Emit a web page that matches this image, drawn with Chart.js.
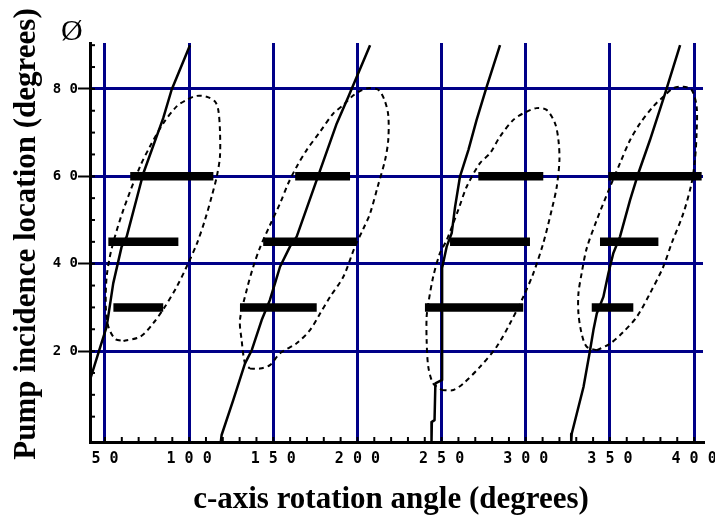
<!DOCTYPE html>
<html>
<head>
<meta charset="utf-8">
<script src="https://cdn.jsdelivr.net/npm/chart.js@4/dist/chart.umd.min.js"></script>
<style>
  html,body{margin:0;padding:0;background:#fff;}
  #wrap{width:715px;height:522px;position:relative;}
</style>
</head>
<body>
<div id="wrap"><canvas id="c" width="715" height="522"></canvas></div>
<script>
// ---------- data ----------
const xTicks = [50, 100, 150, 200, 250, 300, 350, 400];
const yTicks = [20, 40, 60, 80];
const xTitle = "c-axis rotation angle (degrees)";
const yTitle = "Pump incidence location (degrees)";
const cornerLabel = "\u00D8";

// thick horizontal bars (level, start, end)
const barLevel = [60, 45, 30, 60, 45, 30, 60, 45, 30, 60, 45, 30];
const barStart = [65, 52, 55, 163, 144, 130.2, 271.8, 255, 240.1, 349.1, 344.1, 339.2];
const barEnd   = [114.4, 93.6, 84.6, 195.6, 199.6, 175.8, 310.4, 302.5, 298.5, 404.5, 378.8, 363.9];

// solid steep curves
const lineAX = [100.5, 89.6, 84.6, 72.8, 62.9, 59.9, 54.9, 51, 46, 41.1, 37];
const lineAY = [90, 79.8, 73.3, 60.7, 46.2, 43.9, 35.5, 25.6, 19.5, 13.4, 7];
const lineBX = [207.5, 199.6, 194.6, 187.7, 177.5, 163.9, 159.9, 154, 151, 148, 143.1, 137.2, 133.2, 126.2, 119.3, 118.8];
const lineBY = [90, 82.8, 78.2, 72.1, 61, 46.2, 43.9, 39.3, 35.5, 31.7, 27.1, 20.2, 17.2, 8.8, 0.8, -0.8];
const lineCX = [284.7, 276.8, 270.8, 265.9, 260.9, 258, 256, 253, 250.3, 250.3, 246.3, 245.8, 244.2, 244];
const lineCY = [90, 80.5, 72.9, 66, 59.9, 53, 47, 43.9, 39, 13.4, 12.6, 4.2, 3.8, -0.8];
const lineDX = [391.7, 382.8, 373.8, 366.9, 362, 356, 352, 349.1, 346.1, 342.2, 340.2, 338.2, 334.3, 327.3, 327];
const lineDY = [90, 79, 68.3, 60.7, 54.6, 46.2, 42.4, 37.8, 32.4, 28.6, 24.8, 20.2, 11.8, 1.1, -0.8];

// dashed closed loops
const loop1X = [61, 71, 78.7, 85.7, 92.6, 98.5, 104.5, 109.4, 113.4, 116.4, 118.3, 118.3, 117.3, 115.4, 110.4, 104.5, 98.5, 92.6, 84.6, 76.7, 70.8, 60.9, 54, 51, 50.5, 52, 56, 61];
const loop1Y = [22.3, 23.3, 26.4, 30.2, 34.7, 39.3, 44.5, 50, 55.4, 59.9, 64.5, 70.6, 75.2, 77.1, 78.2, 78.4, 77.5, 76, 72.1, 66.8, 62.2, 52.3, 43.5, 37, 30, 25.6, 22.8, 22.3];
const loop2X = [136.1, 142.1, 148, 154, 163.9, 171.8, 177.8, 183.7, 191.6, 198.5, 203.5, 207.5, 212, 216.4, 218.3, 218.3, 216, 212.4, 207, 202, 196.6, 191.6, 185.7, 177.8, 169.8, 163.9, 158.9, 154, 148, 142.1, 138.1, 134.2, 130.2, 131.2, 133.2, 136.1];
const loop2Y = [16, 16, 16.8, 19.5, 21.8, 24.8, 28.6, 32.4, 37, 43.9, 48, 51.5, 57.6, 63.7, 68.3, 74, 77.5, 79.8, 80.2, 79.6, 78.2, 76.3, 74.4, 70.2, 66, 62.2, 58.4, 53.8, 48.8, 43.7, 39.3, 34, 27.1, 22.5, 17.2, 16];
const loop3X = [250, 257, 262.9, 272.8, 282.7, 290.6, 298.5, 304.5, 310.4, 315.4, 318.4, 320, 319.4, 317.4, 312.4, 306.4, 298.5, 292.6, 284.7, 278.8, 272.8, 264.9, 259.9, 253, 249, 245, 242.1, 241.1, 241.1, 242.1, 245, 250];
const loop3Y = [11.1, 11.1, 12.6, 16.4, 21, 26.3, 32.4, 37.8, 44.7, 52.3, 57.6, 63.7, 68.3, 72.1, 75.2, 75.6, 74.4, 72.9, 69.1, 65.3, 63, 57.6, 52.3, 45.4, 42.4, 37, 30.9, 27.8, 22.5, 16.4, 12.6, 11.1];
const loop4X = [342.2, 350.1, 358, 365.9, 373.8, 381.7, 386.7, 393.6, 398.5, 400.5, 401.5, 401.5, 398.5, 393.6, 387.7, 381.7, 375.8, 367.9, 362, 356, 350.1, 342.2, 336.2, 333.2, 331.3, 331.3, 333.2, 336.2, 342.2];
const loop4Y = [20.2, 21.7, 24.4, 27.8, 33.2, 39.3, 44.7, 51.5, 58.4, 63.7, 69.9, 76, 79.8, 80.5, 80.2, 78.2, 76, 72.1, 68.3, 63, 57.6, 50, 43.5, 37.8, 33.2, 28.6, 24, 21, 20.2];

// ---------- build ----------
const pts = (xs, ys) => xs.map((x, i) => ({x: x, y: ys[i]}));
const NAVY = '#000088';
const datasets = [];

[[lineAX, lineAY], [lineBX, lineBY], [lineCX, lineCY], [lineDX, lineDY]].forEach(([xs, ys]) => {
  datasets.push({data: pts(xs, ys), showLine: true, borderColor: '#000', borderWidth: 2.5,
    pointRadius: 0, tension: 0, borderJoinStyle: 'round'});
});
[[loop1X, loop1Y], [loop2X, loop2Y], [loop3X, loop3Y], [loop4X, loop4Y]].forEach(([xs, ys]) => {
  datasets.push({data: pts(xs, ys), showLine: true, borderColor: '#000', borderWidth: 2,
    borderDash: [5, 4], pointRadius: 0, tension: 0.3});
});
barLevel.forEach((lv, i) => {
  datasets.push({data: [{x: barStart[i], y: lv}, {x: barEnd[i], y: lv}], showLine: true,
    borderColor: '#000', borderWidth: 8.5, borderCapStyle: 'butt', pointRadius: 0});
});

const spaced = v => String(v).split('').join(' ');

const extras = {
  id: 'extras',
  afterDatasetsDraw(chart) {
    const ctx = chart.ctx, xs = chart.scales.x, ys = chart.scales.y, a = chart.chartArea;
    ctx.save();
    ctx.strokeStyle = '#000';
    ctx.lineWidth = 2;
    // minor ticks, inside the axes
    for (let v = 50; v <= 400; v += 10) {
      const px = xs.getPixelForValue(v);
      ctx.beginPath(); ctx.moveTo(px, a.bottom); ctx.lineTo(px, a.bottom - 5); ctx.stroke();
    }
    for (let v = 5; v <= 90; v += 5) {
      const py = ys.getPixelForValue(v);
      ctx.beginPath(); ctx.moveTo(a.left, py); ctx.lineTo(a.left + 5, py); ctx.stroke();
    }
    ctx.restore();
  },
  afterDraw(chart) {
    const ctx = chart.ctx;
    ctx.save();
    ctx.fillStyle = '#000';
    ctx.textAlign = 'center';
    ctx.textBaseline = 'middle';
    ctx.font = 'bold 31px "Liberation Serif"';
    ctx.fillText(xTitle, 391, 500);
    ctx.translate(27, 234);
    ctx.rotate(-Math.PI / 2);
    ctx.fillText(yTitle, 0, 0);
    ctx.restore();
    ctx.save();
    ctx.fillStyle = '#000';
    ctx.font = '30px "Liberation Serif"';
    ctx.textAlign = 'left';
    ctx.textBaseline = 'alphabetic';
    ctx.fillText(cornerLabel, 61, 40);
    ctx.restore();
  }
};

new Chart(document.getElementById('c'), {
  type: 'scatter',
  data: {datasets: datasets},
  plugins: [extras],
  options: {
    responsive: false,
    animation: false,
    layout: {padding: {left: 0, top: 43, right: 12, bottom: 0}},
    plugins: {legend: {display: false}, tooltip: {enabled: false}, title: {display: false}},
    scales: {
      x: {
        type: 'linear', min: 41.1, max: 405.3,
        afterBuildTicks: s => { s.ticks = xTicks.map(v => ({value: v})); },
        afterFit: s => { s.height = 80; s.paddingLeft = 0; s.paddingRight = 0; },
        ticks: {autoSkip: false, maxRotation: 0, padding: 8, color: '#000',
          font: {family: '"DejaVu Sans Mono"', size: 15, weight: 'bold'}, callback: v => spaced(v)},
        grid: {color: NAVY, lineWidth: 3, drawTicks: false},
        border: {color: '#000', width: 3}
      },
      y: {
        type: 'linear', min: -0.8, max: 90.5,
        afterBuildTicks: s => { s.ticks = yTicks.map(v => ({value: v})); },
        afterFit: s => { s.width = 90; s.paddingTop = 0; s.paddingBottom = 0; },
        ticks: {autoSkip: false, padding: 0, color: '#000',
          font: {family: '"DejaVu Sans Mono"', size: 14, weight: 'bold'}, callback: v => spaced(v)},
        grid: {color: NAVY, lineWidth: 3, drawTicks: true, tickLength: 12, tickColor: '#000', tickWidth: 2},
        border: {color: '#000', width: 3}
      }
    }
  }
});
</script>
</body>
</html>
